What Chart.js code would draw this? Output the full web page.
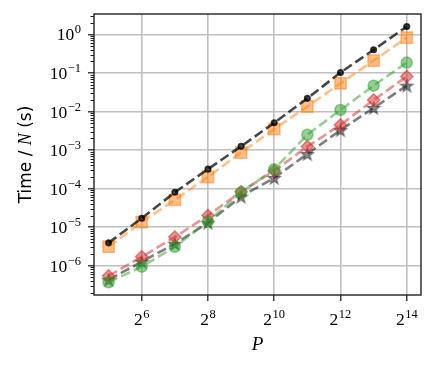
<!DOCTYPE html>
<html>
<head>
<meta charset="utf-8">
<script src="https://cdn.jsdelivr.net/npm/chart.js@4.4.1/dist/chart.umd.min.js"></script>
<style>
  html, body { margin: 0; padding: 0; background: #fff; }
  #wrap { width: 436px; height: 366px; }
</style>
</head>
<body>
<div id="wrap"><canvas id="myChart"></canvas></div>
<script>
// P exponents (x = 2^P) and time per N in seconds
const P = [5, 6, 7, 8, 9, 10, 11, 12, 13, 14];
const timeBlack  = [3.9e-6, 1.7e-5, 8.0e-5, 3.2e-4, 1.25e-3, 5.1e-3, 0.022, 0.103, 0.40, 1.6];
const timeOrange = [3.1e-6, 1.35e-5, 5.1e-5, 2.0e-4, 8.6e-4, 3.5e-3, 0.0135, 0.054, 0.21, 0.83];
const timeGreen  = [3.7e-7, 9.4e-7, 3.1e-6, 1.4e-5, 8.0e-5, 3.2e-4, 2.5e-3, 0.011, 0.047, 0.186];
const timeRed    = [5.4e-7, 1.7e-6, 5.5e-6, 2.0e-5, 8.3e-5, 2.9e-4, 1.23e-3, 4.5e-3, 0.020, 0.081];
const timeGray   = [4.3e-7, 1.26e-6, 3.7e-6, 1.3e-5, 6.2e-5, 1.9e-4, 7.9e-4, 3.3e-3, 0.0124, 0.047];

const xTicks = [6, 8, 10, 12, 14];
const yTicks = [-6, -5, -4, -3, -2, -1, 0];

const pts = arr => P.map((p, i) => ({ x: p, y: arr[i] }));

// filled 5 point star like matplotlib '*'
function starImage(color) {
  const c = document.createElement('canvas');
  c.width = 16; c.height = 16;
  const g = c.getContext('2d');
  g.beginPath();
  for (let k = 0; k < 10; k++) {
    const r = k % 2 === 0 ? 6.6 : 2.6;
    const a = -Math.PI / 2 + k * Math.PI / 5;
    const px = 8 + r * Math.cos(a), py = 8.6 + r * Math.sin(a);
    if (k === 0) g.moveTo(px, py); else g.lineTo(px, py);
  }
  g.closePath();
  g.fillStyle = color;
  g.fill();
  g.lineWidth = 1.2;
  g.strokeStyle = color;
  g.stroke();
  return c;
}

const dash = [9.7, 4.2];

function series(data, color, style, radius) {
  return {
    data: pts(data),
    borderColor: color,
    borderWidth: 2.6,
    borderDash: dash,
    pointStyle: style,
    pointRadius: radius,
    pointBackgroundColor: color,
    pointBorderColor: color,
    pointBorderWidth: 1.5,
    tension: 0
  };
}

const sansFont = '17px "DejaVu Sans"';
const serifFont = '17.5px "Liberation Serif"';
const supFont = '12.5px "Liberation Serif"';

function drawPower(ctx, base, exp, x, y, align) {
  ctx.font = serifFont;
  const wb = ctx.measureText(base).width;
  ctx.font = supFont;
  const we = ctx.measureText(exp).width;
  const total = wb + we + 0.5;
  let left = align === 'right' ? x - total : x - total / 2;
  ctx.textAlign = 'left';
  ctx.textBaseline = 'alphabetic';
  ctx.font = serifFont;
  ctx.fillText(base, left, y);
  ctx.font = supFont;
  ctx.fillText(exp, left + wb + 0.5, y - 7);
}

const axisDeco = {
  id: 'axisDeco',
  afterDraw(chart) {
    const ctx = chart.ctx;
    const a = chart.chartArea;
    const xs = chart.scales.x, ys = chart.scales.y;
    ctx.save();
    // minor ticks on y
    ctx.strokeStyle = '#222';
    ctx.lineWidth = 1;
    for (let d = -7; d <= 0; d++) {
      for (let m = 2; m <= 9; m++) {
        const v = m * Math.pow(10, d);
        if (v < ys.min || v > ys.max) continue;
        const y = Math.round(ys.getPixelForValue(v)) + 0.5;
        ctx.beginPath();
        ctx.moveTo(a.left - 3.5, y);
        ctx.lineTo(a.left, y);
        ctx.stroke();
      }
    }
    // frame
    ctx.strokeStyle = '#222';
    ctx.lineWidth = 1.4;
    ctx.strokeRect(a.left, a.top, a.right - a.left, a.bottom - a.top);
    // tick labels
    ctx.fillStyle = '#000';
    yTicks.forEach(e => {
      const y = ys.getPixelForValue(Math.pow(10, e));
      drawPower(ctx, '10', e < 0 ? '\u2212' + (-e) : String(e), a.left - 13, y + 6, 'right');
    });
    xTicks.forEach(e => {
      const x = xs.getPixelForValue(e);
      drawPower(ctx, '2', String(e), x, a.bottom + 30, 'center');
    });
    // x title
    ctx.font = 'italic 19px "Liberation Serif"';
    ctx.textAlign = 'center';
    ctx.fillText('P', (a.left + a.right) / 2, 350);
    // y title: Time / N (s)
    const parts = [['Time / ', sansFont], ['N', 'italic 18px "Liberation Serif"'], [' (s)', sansFont]];
    let tw = 0;
    parts.forEach(p => { ctx.font = p[1]; tw += ctx.measureText(p[0]).width; });
    ctx.translate(31, (a.top + a.bottom) / 2);
    ctx.rotate(-Math.PI / 2);
    ctx.textAlign = 'left';
    let cx = -tw / 2;
    parts.forEach(p => { ctx.font = p[1]; ctx.fillText(p[0], cx, 0); cx += ctx.measureText(p[0]).width; });
    ctx.restore();
  }
};

const ctx = document.getElementById('myChart');

new Chart(ctx, {
  type: 'line',
  data: {
    datasets: [
      series(timeBlack, 'rgba(0,0,0,0.72)', 'circle', 2.8),
      series(timeOrange, 'rgba(255,127,14,0.5)', 'rect', 8),
      series(timeGreen, 'rgba(44,160,44,0.5)', 'circle', 5.5),
      series(timeRed, 'rgba(214,39,40,0.5)', 'rectRot', 6.2),
      series(timeGray, 'rgba(0,0,0,0.5)', starImage('rgba(0,0,0,0.45)'), 7)
    ]
  },
  options: {
    responsive: true,
    maintainAspectRatio: false,
    animation: false,
    layout: { padding: { left: 0, top: 14, right: 15, bottom: 0 } },
    plugins: {
      legend: { display: false },
      tooltip: { enabled: false }
    },
    scales: {
      x: {
        type: 'linear',
        min: 4.56,
        max: 14.43,
        afterBuildTicks: s => { s.ticks = xTicks.map(v => ({ value: v })); },
        afterFit: s => { s.height = 71; },
        ticks: { display: false },
        border: { display: false },
        grid: { color: '#c0c0c0', lineWidth: 1.6, tickColor: '#222', tickLength: 6, tickWidth: 1.3 }
      },
      y: {
        type: 'logarithmic',
        min: 1.73e-7,
        max: 3.4,
        afterBuildTicks: s => { s.ticks = yTicks.map(e => ({ value: Math.pow(10, e), major: true })); },
        afterFit: s => { s.width = 94; },
        ticks: { display: false },
        border: { display: false },
        grid: { color: '#c0c0c0', lineWidth: 1.6, tickColor: '#222', tickLength: 6, tickWidth: 1.3 }
      }
    }
  },
  plugins: [axisDeco]
});
</script>
</body>
</html>
